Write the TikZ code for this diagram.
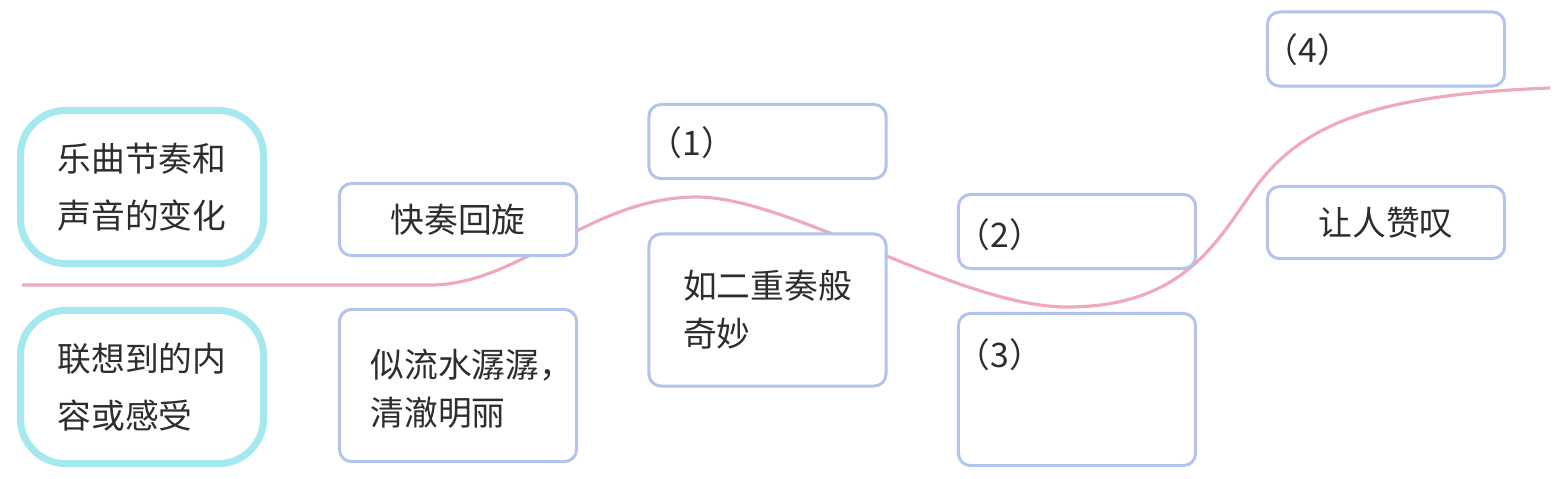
\documentclass[tikz,border=0pt]{standalone}
\usepackage{fontspec}
\setmainfont{Noto Sans CJK SC}
\definecolor{headcyan}{RGB}{165,232,240}
\definecolor{noteblue}{RGB}{178,196,236}
\definecolor{flowpink}{RGB}{240,168,188}
\definecolor{inkgray}{RGB}{45,45,45}
\tikzset{
  headbox/.style={draw=headcyan, line width=2pt, fill=white, rounded corners=0.45cm, minimum width=2.43cm, minimum height=1.53cm, align=left, text=inkgray, font=\fontsize{9.6}{16.2}\selectfont},
  notebox/.style={draw=noteblue, line width=0.85pt, fill=white, rounded corners=0.12cm, minimum width=2.37cm, minimum height=0.74cm, align=left, text=inkgray, font=\fontsize{9.6}{13.6}\selectfont},
  tallbox/.style={notebox, minimum height=1.52cm},
  numtext/.style={anchor=west, inner sep=0pt, align=left, text=inkgray, font=\fontsize{9.6}{13.6}\selectfont},
  flowline/.style={draw=flowpink, line width=0.9pt}
}
\begin{document}
\begin{tikzpicture}[x=0.01cm, y=-0.01cm]
\useasboundingbox (0,0) rectangle (1561,478);
% pink flow line, drawn first so the boxes cover it
\coordinate (flowstart) at (22,285);
\coordinate (flowend) at (1550,88);
\draw[flowline] (flowstart) -- (430,285) .. controls (520,285) and (590,197) .. (697,197) .. controls (790,197) and (960,307) .. (1067,307) .. controls (1180,307) and (1215,245) .. (1250,195) .. controls (1295,130) and (1360,95) .. (flowend);
% left headings
\node[headbox] (change) at (142,187) {乐曲节奏和\\声音的变化};
\node[headbox] (feeling) at (142,387) {联想到的内\\容或感受};
% boxes
\node[notebox, minimum height=0.72cm] (fast) at (458,219.5) {快奏回旋};
\node[tallbox] (water) at (458,385.5) {};
\node[numtext] (watertext) at (370,389) {似流水潺潺，\\清澈明丽};
\node[notebox] (blank1) at (767.5,141.5) {};
\node[tallbox] (duet) at (767.5,310) {如二重奏般\\奇妙};
\node[notebox] (blank2) at (1077,231.5) {};
\node[tallbox] (blank3) at (1077,389.5) {};
\node[notebox] (blank4) at (1386,49) {};
\node[notebox, minimum height=0.72cm] (praise) at (1386,222.5) {让人赞叹};
% numbers to fill in
\node[numtext] (num1) at (648,143) {（1）};
\node[numtext] (num2) at (956,235) {（2）};
\node[numtext] (num3) at (956,355) {（3）};
\node[numtext] (num4) at (1264,50) {（4）};
\end{tikzpicture}
\end{document}
